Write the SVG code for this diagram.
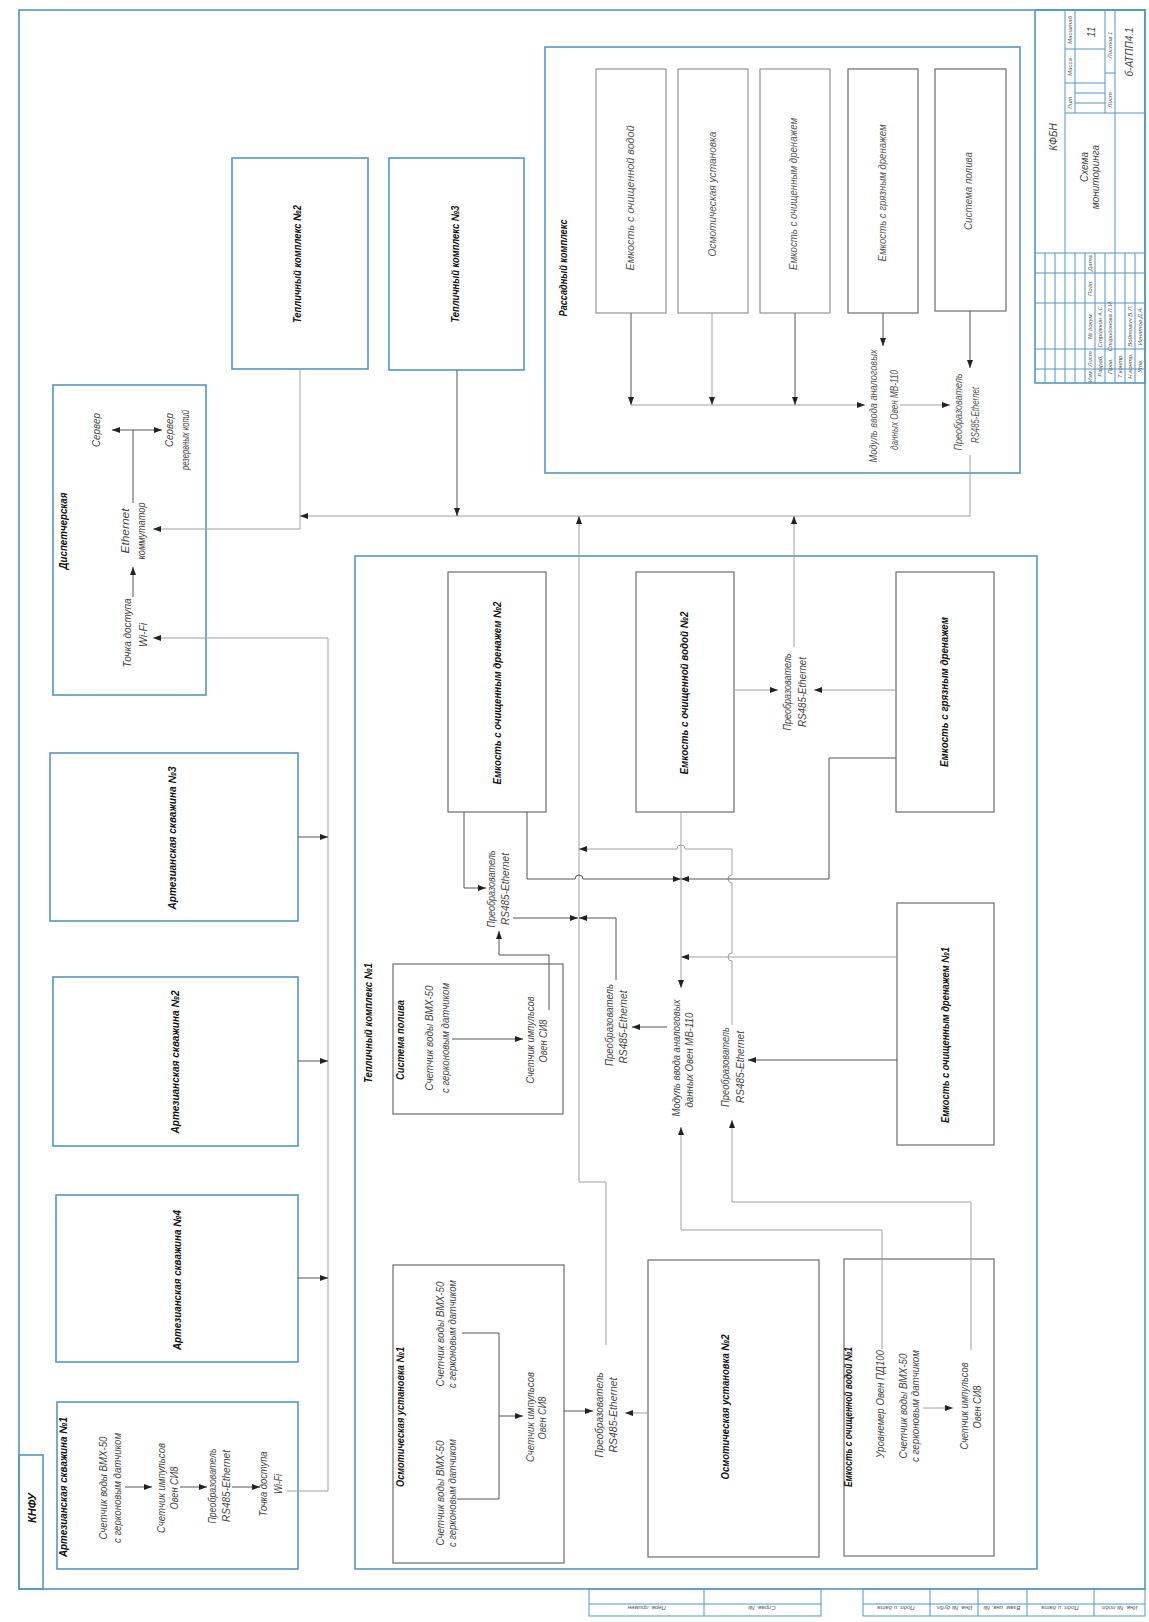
<svg xmlns="http://www.w3.org/2000/svg" width="1149" height="1622" viewBox="0 0 1149 1622">
<defs>
<marker id="ar" viewBox="0 0 8 6" refX="8" refY="3" markerWidth="8" markerHeight="6" markerUnits="userSpaceOnUse" orient="auto"><path d="M0,0 L8,3 L0,6 z" fill="#222"/></marker>
</defs>
<style>
.bl{fill:none;stroke:#4f97cc;stroke-width:1.6}
.bx{fill:none;stroke:#6b6b6b;stroke-width:1.2}
.bxl{fill:none;stroke:#8a8a8a;stroke-width:1.1}
.c{fill:none;stroke:#555;stroke-width:1}
.cl{fill:none;stroke:#a0a0a0;stroke-width:1}
.a{marker-end:url(#ar)}
.tl{fill:none;stroke:#4f97cc;stroke-width:1}
text{font-family:"Liberation Sans",Arial,sans-serif;font-style:italic;fill:#444;font-size:10px;text-anchor:middle}
.b{fill:#111;font-size:11px;font-weight:bold}
.s{font-size:6px;fill:#555}
.m{font-size:11px;fill:#555}
</style>
<rect width="1149" height="1622" fill="#fff"/>

<g id="frame">
<rect class="bl" x="19" y="10" width="1126" height="1579"/>
<rect class="bl" x="19" y="1455" width="24" height="134"/>
<text class="b" font-size="14" transform="translate(36,1508) rotate(-90)">КНФУ</text>
<rect class="tl" x="589" y="1589" width="232" height="27"/>
<line class="tl" x1="704" y1="1589" x2="704" y2="1616"/>
<line class="tl" x1="589" y1="1604" x2="821" y2="1604"/>
<rect class="tl" x="863" y="1589" width="282" height="27"/>
<line class="tl" x1="930" y1="1589" x2="930" y2="1616"/>
<line class="tl" x1="978" y1="1589" x2="978" y2="1616"/>
<line class="tl" x1="1027" y1="1589" x2="1027" y2="1616"/>
<line class="tl" x1="1094" y1="1589" x2="1094" y2="1616"/>
<line class="tl" x1="863" y1="1604" x2="1145" y2="1604"/>
<text class="s" transform="translate(646,1606) rotate(180)">Перв. примен.</text>
<text class="s" transform="translate(762,1606) rotate(180)">Справ. №</text>
<text class="s" transform="translate(896,1606) rotate(180)">Подп. и дата</text>
<text class="s" transform="translate(954,1606) rotate(180)">Инв. № дубл.</text>
<text class="s" transform="translate(1002,1606) rotate(180)">Взам. инв. №</text>
<text class="s" transform="translate(1060,1606) rotate(180)">Подп. и дата</text>
<text class="s" transform="translate(1119,1606) rotate(180)">Инв. № подл.</text>
</g>

<g id="title-block">
<rect class="bl" x="1035" y="10" width="110" height="373"/>
<line class="tl" x1="1035" y1="253" x2="1145" y2="253"/>
<line class="tl" x1="1065" y1="10" x2="1065" y2="253"/>
<line class="tl" x1="1115" y1="10" x2="1115" y2="253"/>
<line class="tl" x1="1065" y1="113" x2="1145" y2="113"/>
<line class="tl" x1="1075" y1="10" x2="1075" y2="113"/>
<line class="tl" x1="1105" y1="10" x2="1105" y2="113"/>
<line class="tl" x1="1065" y1="83" x2="1105" y2="83"/>
<line class="tl" x1="1065" y1="49" x2="1105" y2="49"/>
<line class="tl" x1="1075" y1="103" x2="1105" y2="103"/>
<line class="tl" x1="1075" y1="93" x2="1105" y2="93"/>
<line class="tl" x1="1105" y1="73" x2="1115" y2="73"/>
<line class="tl" x1="1035" y1="369" x2="1145" y2="369"/>
<line class="tl" x1="1035" y1="349" x2="1145" y2="349"/>
<line class="tl" x1="1035" y1="303" x2="1145" y2="303"/>
<line class="tl" x1="1035" y1="273" x2="1145" y2="273"/>
<line class="tl" x1="1045" y1="253" x2="1045" y2="383"/>
<line class="tl" x1="1055" y1="253" x2="1055" y2="383"/>
<line class="tl" x1="1065" y1="253" x2="1065" y2="383"/>
<line class="tl" x1="1075" y1="253" x2="1075" y2="383"/>
<line class="tl" x1="1085" y1="253" x2="1085" y2="383"/>
<line class="tl" x1="1095" y1="253" x2="1095" y2="383"/>
<line class="tl" x1="1105" y1="253" x2="1105" y2="383"/>
<line class="tl" x1="1115" y1="253" x2="1115" y2="383"/>
<line class="tl" x1="1125" y1="253" x2="1125" y2="383"/>
<line class="tl" x1="1135" y1="253" x2="1135" y2="383"/>
<text font-size="14" fill="#333" transform="translate(1057,137) rotate(-90)">КФБН</text>
<text font-size="12" fill="#333" transform="translate(1088,167) rotate(-90)">Схема</text>
<text font-size="12" fill="#333" transform="translate(1099,177) rotate(-90)">мониторинга</text>
<text class="s" transform="translate(1072,103) rotate(-90)">Лит</text>
<text class="s" transform="translate(1072,67) rotate(-90)">Масса</text>
<text class="s" transform="translate(1072,30) rotate(-90)">Масштаб</text>
<text font-size="9" transform="translate(1095,32) rotate(-90)">11</text>
<text class="s" transform="translate(1112,100) rotate(-90)">Лист</text>
<text class="s" transform="translate(1112,45) rotate(-90)">Листов 1</text>
<text font-size="14" fill="#333" transform="translate(1133,52) rotate(-90)">б-АТПП4.1</text>
<text class="s" transform="translate(1092,376) rotate(-90)">Изм.</text>
<text class="s" transform="translate(1092,359) rotate(-90)">Лист</text>
<text class="s" transform="translate(1092,326) rotate(-90)">№ докум.</text>
<text class="s" transform="translate(1092,288) rotate(-90)">Подп.</text>
<text class="s" transform="translate(1092,263) rotate(-90)">Дата</text>
<text class="s" transform="translate(1102,366) rotate(-90)">Разраб.</text>
<text class="s" transform="translate(1102,326) rotate(-90)">Стрижкин А.С.</text>
<text class="s" transform="translate(1112,366) rotate(-90)">Пров.</text>
<text class="s" transform="translate(1112,326) rotate(-90)">Спиридонова Л.И.</text>
<text class="s" transform="translate(1122,366) rotate(-90)">Т.контр.</text>
<text class="s" transform="translate(1132,366) rotate(-90)">Н.контр.</text>
<text class="s" transform="translate(1132,326) rotate(-90)">Войтович В.Л.</text>
<text class="s" transform="translate(1142,366) rotate(-90)">Утв.</text>
<text class="s" transform="translate(1142,326) rotate(-90)">Игнатов Д.А.</text>
</g>

<g id="dispetcherskaya">
<rect class="bl" x="53" y="385" width="153" height="310"/>
<text class="b" transform="translate(67,531) rotate(-90)" textLength="77" lengthAdjust="spacingAndGlyphs">Диспетчерская</text>
<text transform="translate(100,430) rotate(-90)" textLength="34" lengthAdjust="spacingAndGlyphs">Сервер</text>
<text transform="translate(173,430) rotate(-90)" textLength="34" lengthAdjust="spacingAndGlyphs">Сервер</text>
<text transform="translate(189,440) rotate(-90)" textLength="60" lengthAdjust="spacingAndGlyphs">резервных копий</text>
<text transform="translate(129,531) rotate(-90)" textLength="45" lengthAdjust="spacingAndGlyphs">Ethernet</text>
<text transform="translate(145,531) rotate(-90)" textLength="57" lengthAdjust="spacingAndGlyphs">коммутатор</text>
<text transform="translate(131,633) rotate(-90)" textLength="69" lengthAdjust="spacingAndGlyphs">Точка доступа</text>
<text transform="translate(147,635) rotate(-90)" textLength="24" lengthAdjust="spacingAndGlyphs">Wi-Fi</text>
</g>

<g id="teplichny-2">
<rect class="bl" x="232" y="158" width="136" height="211"/>
<text class="b" transform="translate(301,264) rotate(-90)" textLength="118" lengthAdjust="spacingAndGlyphs">Тепличный комплекс №2</text>
</g>
<g id="teplichny-3">
<rect class="bl" x="389" y="158" width="135" height="212"/>
<text class="b" transform="translate(459,264) rotate(-90)" textLength="117" lengthAdjust="spacingAndGlyphs">Тепличный комплекс №3</text>
</g>

<g id="artesian-3">
<rect class="bl" x="50" y="753" width="248" height="168"/>
<text class="b" transform="translate(176,838) rotate(-90)" textLength="143" lengthAdjust="spacingAndGlyphs">Артезианская скважина №3</text>
</g>
<g id="artesian-2">
<rect class="bl" x="53" y="977" width="245" height="169"/>
<text class="b" transform="translate(179,1062) rotate(-90)" textLength="143" lengthAdjust="spacingAndGlyphs">Артезианская скважина №2</text>
</g>
<g id="artesian-4">
<rect class="bl" x="56" y="1195" width="242" height="167"/>
<text class="b" transform="translate(181,1280) rotate(-90)" textLength="140" lengthAdjust="spacingAndGlyphs">Артезианская скважина №4</text>
</g>
<g id="artesian-1">
<rect class="bl" x="57" y="1402" width="241" height="167"/>
<text class="b" transform="translate(67,1487) rotate(-90)" textLength="140" lengthAdjust="spacingAndGlyphs">Артезианская скважина №1</text>
<text transform="translate(107,1488) rotate(-90)" textLength="103" lengthAdjust="spacingAndGlyphs">Счетчик воды ВМХ-50</text>
<text transform="translate(121,1488) rotate(-90)" textLength="110" lengthAdjust="spacingAndGlyphs">с герконовым датчиком</text>
<text transform="translate(165,1488) rotate(-90)" textLength="90" lengthAdjust="spacingAndGlyphs">Счетчик импульсов</text>
<text transform="translate(178,1488) rotate(-90)" textLength="43" lengthAdjust="spacingAndGlyphs">Овен СИ8</text>
<text transform="translate(216,1486) rotate(-90)" textLength="75" lengthAdjust="spacingAndGlyphs">Преобразователь</text>
<text transform="translate(230,1486) rotate(-90)" textLength="72" lengthAdjust="spacingAndGlyphs">RS485-Ethernet</text>
<text transform="translate(267,1484) rotate(-90)" textLength="65" lengthAdjust="spacingAndGlyphs">Точка доступа</text>
<text transform="translate(282,1484) rotate(-90)" textLength="20" lengthAdjust="spacingAndGlyphs">Wi-Fi</text>
</g>

<g id="rassadny">
<rect class="bl" x="545" y="47" width="475" height="426"/>
<text class="b" transform="translate(567,268) rotate(-90)" textLength="97" lengthAdjust="spacingAndGlyphs">Рассадный комплекс</text>
<rect class="bxl" x="596" y="69" width="70" height="244"/>
<rect class="bxl" x="678" y="69" width="70" height="244"/>
<rect class="bxl" x="760" y="69" width="70" height="244"/>
<rect class="bx" x="848" y="69" width="70" height="244"/>
<rect class="bx" x="935" y="69" width="71" height="242"/>
<text class="m" transform="translate(634,198) rotate(-90)" textLength="145" lengthAdjust="spacingAndGlyphs">Емкость с очищенной водой</text>
<text class="m" transform="translate(716,194) rotate(-90)" textLength="125" lengthAdjust="spacingAndGlyphs">Осмотическая установка</text>
<text class="m" transform="translate(797,194) rotate(-90)" textLength="152" lengthAdjust="spacingAndGlyphs">Емкость с очищенным дренажем</text>
<text class="m" transform="translate(886,193) rotate(-90)" textLength="137" lengthAdjust="spacingAndGlyphs">Емкость с грязным дренажем</text>
<text class="m" transform="translate(972,191) rotate(-90)" textLength="78" lengthAdjust="spacingAndGlyphs">Система полива</text>
<text class="m" transform="translate(877,406) rotate(-90)" textLength="113" lengthAdjust="spacingAndGlyphs">Модуль ввода аналоговых</text>
<text class="m" transform="translate(898,410) rotate(-90)" textLength="80" lengthAdjust="spacingAndGlyphs">данных Овен МВ-110</text>
<text class="m" transform="translate(962,412) rotate(-90)" textLength="77" lengthAdjust="spacingAndGlyphs">Преобразователь</text>
<text class="m" transform="translate(979,415) rotate(-90)" textLength="56" lengthAdjust="spacingAndGlyphs">RS485-Ethernet</text>
</g>

<g id="teplichny-1">
<rect class="bl" x="355" y="556" width="682" height="1013"/>
<text class="b" transform="translate(372,1023) rotate(-90)" textLength="120" lengthAdjust="spacingAndGlyphs">Тепличный комплекс №1</text>
</g>

<g id="sistema-poliva">
<rect class="bx" x="393" y="964" width="170" height="150"/>
<text class="b" transform="translate(404,1040) rotate(-90)" textLength="80" lengthAdjust="spacingAndGlyphs">Система полива</text>
<text transform="translate(433,1038) rotate(-90)" textLength="105" lengthAdjust="spacingAndGlyphs">Счетчик воды ВМХ-50</text>
<text transform="translate(449,1038) rotate(-90)" textLength="110" lengthAdjust="spacingAndGlyphs">с герконовым датчиком</text>
<text transform="translate(534,1040) rotate(-90)" textLength="87" lengthAdjust="spacingAndGlyphs">Счетчик импульсов</text>
<text transform="translate(547,1041) rotate(-90)" textLength="43" lengthAdjust="spacingAndGlyphs">Овен СИ8</text>
</g>

<g id="drenazh-2">
<rect class="bx" x="448" y="572" width="98" height="240"/>
<text class="b" transform="translate(501,693) rotate(-90)" textLength="183" lengthAdjust="spacingAndGlyphs">Емкость с очищенным дренажем №2</text>
</g>
<g id="voda-2">
<rect class="bx" x="636" y="572" width="98" height="240"/>
<text class="b" transform="translate(688,693) rotate(-90)" textLength="163" lengthAdjust="spacingAndGlyphs">Емкость с очищенной водой №2</text>
</g>
<g id="gryazny">
<rect class="bx" x="896" y="572" width="98" height="240"/>
<text class="b" transform="translate(948,692) rotate(-90)" textLength="150" lengthAdjust="spacingAndGlyphs">Емкость с грязным дренажем</text>
</g>
<g id="drenazh-1">
<rect class="bx" x="897" y="903" width="97" height="242"/>
<text class="b" transform="translate(949,1035) rotate(-90)" textLength="176" lengthAdjust="spacingAndGlyphs">Емкость с очищенным дренажем №1</text>
</g>

<g id="conv-upper">
<text transform="translate(495,889) rotate(-90)" textLength="77" lengthAdjust="spacingAndGlyphs">Преобразователь</text>
<text transform="translate(509,889) rotate(-90)" textLength="72" lengthAdjust="spacingAndGlyphs">RS485-Ethernet</text>
</g>
<g id="conv-top-right">
<text transform="translate(791,692) rotate(-90)" textLength="77" lengthAdjust="spacingAndGlyphs">Преобразователь</text>
<text transform="translate(806,692) rotate(-90)" textLength="70" lengthAdjust="spacingAndGlyphs">RS485-Ethernet</text>
</g>
<g id="conv-middle">
<text transform="translate(613,1025) rotate(-90)" textLength="82" lengthAdjust="spacingAndGlyphs">Преобразователь</text>
<text transform="translate(627,1027) rotate(-90)" textLength="73" lengthAdjust="spacingAndGlyphs">RS485-Ethernet</text>
</g>
<g id="module-mv110">
<text transform="translate(680,1058) rotate(-90)" textLength="117" lengthAdjust="spacingAndGlyphs">Модуль ввода аналоговых</text>
<text transform="translate(693,1060) rotate(-90)" textLength="95" lengthAdjust="spacingAndGlyphs">данных Овен МВ-110</text>
</g>
<g id="conv-lower">
<text transform="translate(729,1067) rotate(-90)" textLength="80" lengthAdjust="spacingAndGlyphs">Преобразователь</text>
<text transform="translate(744,1067) rotate(-90)" textLength="72" lengthAdjust="spacingAndGlyphs">RS485-Ethernet</text>
</g>

<g id="osmos-1">
<rect class="bx" x="393" y="1265" width="171" height="298"/>
<text class="b" transform="translate(404,1417) rotate(-90)" textLength="140" lengthAdjust="spacingAndGlyphs">Осмотическая установка №1</text>
<text transform="translate(444,1334) rotate(-90)" textLength="105" lengthAdjust="spacingAndGlyphs">Счетчик воды ВМХ-50</text>
<text transform="translate(456,1334) rotate(-90)" textLength="108" lengthAdjust="spacingAndGlyphs">с герконовым датчиком</text>
<text transform="translate(444,1493) rotate(-90)" textLength="105" lengthAdjust="spacingAndGlyphs">Счетчик воды ВМХ-50</text>
<text transform="translate(456,1493) rotate(-90)" textLength="108" lengthAdjust="spacingAndGlyphs">с герконовым датчиком</text>
<text transform="translate(534,1417) rotate(-90)" textLength="90" lengthAdjust="spacingAndGlyphs">Счетчик импульсов</text>
<text transform="translate(546,1418) rotate(-90)" textLength="43" lengthAdjust="spacingAndGlyphs">Овен СИ8</text>
</g>
<g id="conv-osmos">
<text transform="translate(603,1415) rotate(-90)" textLength="85" lengthAdjust="spacingAndGlyphs">Преобразователь</text>
<text transform="translate(617,1415) rotate(-90)" textLength="75" lengthAdjust="spacingAndGlyphs">RS485-Ethernet</text>
</g>
<g id="osmos-2">
<rect class="bx" x="648" y="1260" width="171" height="297"/>
<text class="b" transform="translate(729,1407) rotate(-90)" textLength="145" lengthAdjust="spacingAndGlyphs">Осмотическая установка №2</text>
</g>
<g id="voda-1">
<rect class="bx" x="844" y="1259" width="150" height="297"/>
<text class="b" transform="translate(852,1417) rotate(-90)" textLength="140" lengthAdjust="spacingAndGlyphs">Емкость с очищенной водой №1</text>
<text transform="translate(884,1404) rotate(-90)" textLength="108" lengthAdjust="spacingAndGlyphs">Уровнемер Овен ПД100</text>
<text transform="translate(907,1406) rotate(-90)" textLength="105" lengthAdjust="spacingAndGlyphs">Счетчик воды ВМХ-50</text>
<text transform="translate(919,1406) rotate(-90)" textLength="112" lengthAdjust="spacingAndGlyphs">с герконовым датчиком</text>
<text transform="translate(968,1406) rotate(-90)" textLength="87" lengthAdjust="spacingAndGlyphs">Счетчик импульсов</text>
<text transform="translate(981,1407) rotate(-90)" textLength="43" lengthAdjust="spacingAndGlyphs">Овен СИ8</text>
</g>

<g id="connectors">
<path class="c" d="M133,503 L133,430"/>
<path class="c a" d="M133,430 L112,430"/>
<path class="c a" d="M133,430 L162,430"/>
<path class="c a" d="M133,597 L133,567"/>
<path class="cl a" d="M300,369 L300,529 L153,529"/>
<path class="cl a" d="M287,1491 L328,1491 L328,638 L153,638"/>
<path class="c a" d="M298,837 L328,837"/>
<path class="c a" d="M298,1061 L328,1061"/>
<path class="c a" d="M298,1278 L328,1278"/>
<path class="c a" d="M125,1487 L152,1487"/>
<path class="c a" d="M180,1487 L207,1487"/>
<path class="c a" d="M232,1487 L260,1487"/>
<path class="cl a" d="M970,455 L970,516 L300,516"/>
<path class="c a" d="M457,370 L457,516"/>
<path class="cl a" d="M606,1345 L606,1182 L579,1182 L579,516"/>
<path class="cl a" d="M794,647 L794,516"/>
<path class="c a" d="M631,313 L631,405"/>
<path class="cl a" d="M712,313 L712,405"/>
<path class="c a" d="M795,313 L795,405"/>
<path class="cl a" d="M631,405 L865,405"/>
<path class="cl a" d="M900,405 L950,405"/>
<path class="c a" d="M883,313 L883,346"/>
<path class="c a" d="M970,311 L970,368"/>
<path class="c a" d="M464,812 L464,888 L486,888"/>
<path class="c a" d="M549,1010 L549,955 L499,955 L499,931"/>
<path class="c a" d="M513,918 L578,918"/>
<path class="c a" d="M616,980 L616,918 L579,918"/>
<path class="cl a" d="M732,1025 L732,961 A4,4 0 0 1 732,953 L732,883 A4,4 0 0 1 732,875 L732,849 L685,849 A4,4 0 0 0 677,849 L579,849"/>
<path class="c a" d="M527,812 L527,879 L575,879 A4,4 0 0 1 583,879 L681,879"/>
<path class="c a" d="M896,758 L829,758 L829,879 L681,879"/>
<path class="cl a" d="M897,957 L681,957"/>
<path class="c a" d="M897,1060 L748,1060"/>
<path class="cl a" d="M681,812 L681,988"/>
<path class="cl a" d="M882,1349 L882,1230 L681,1230 L681,1127"/>
<path class="cl a" d="M971,1350 L971,1202 L732,1202 L732,1120"/>
<path class="c a" d="M667,1027 L632,1027"/>
<path class="cl a" d="M734,690 L778,690"/>
<path class="cl a" d="M896,690 L814,690"/>
<path class="c" d="M462,1333 L499,1333 L499,1499 L457,1499"/>
<path class="c a" d="M499,1416 L523,1416"/>
<path class="c a" d="M564,1411 L593,1411"/>
<path class="cl a" d="M648,1413 L625,1413"/>
<path class="cl a" d="M923,1408 L953,1408"/>
<path class="c a" d="M452,1039 L523,1039"/>
</g>
</svg>
